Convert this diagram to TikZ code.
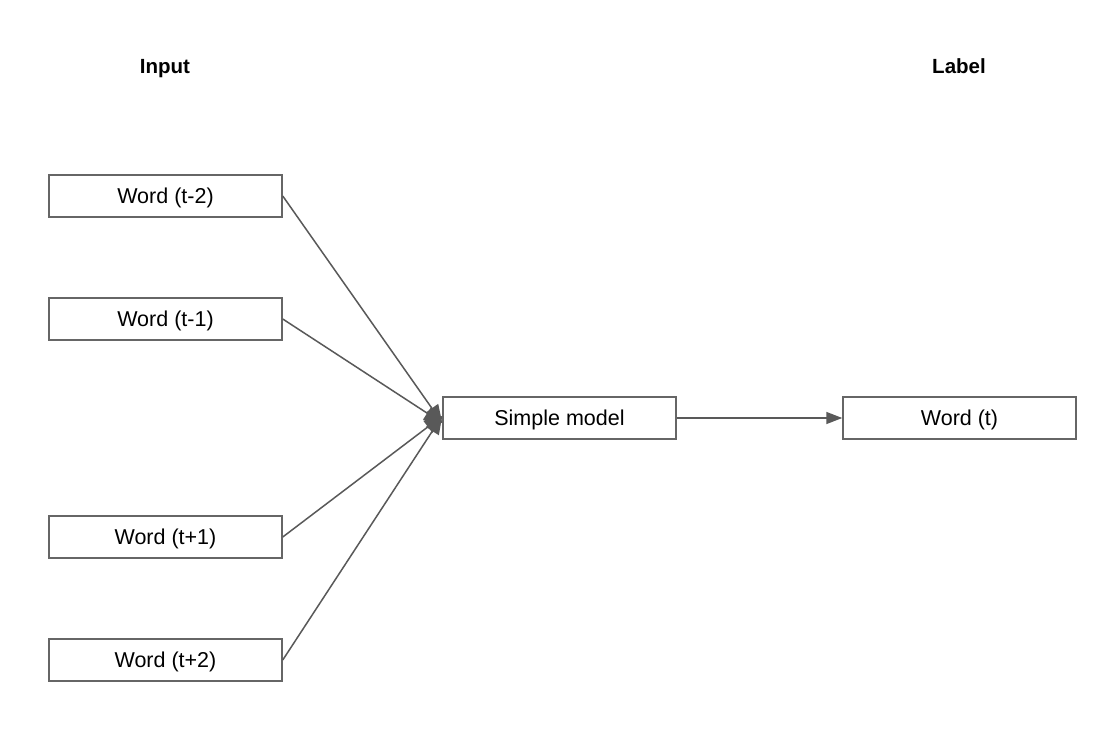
\documentclass[tikz,border=0pt]{standalone}
\usepackage{fontspec}
\setmainfont{Liberation Sans}
\usetikzlibrary{arrows.meta}
\definecolor{edgegray}{HTML}{595959}
\definecolor{boxgray}{HTML}{666666}
\begin{document}
\begin{tikzpicture}[x=1pt,y=-1pt,
  wordbox/.style={draw=boxgray,line width=1.5pt,minimum width=233pt,minimum height=42pt,inner sep=0pt,fill=white,text height=15.5pt,text depth=0pt,font=\fontsize{21.5}{25}\selectfont},
  head/.style={text height=14.8pt,text depth=0pt,font=\bfseries\fontsize{20.5}{24}\selectfont},
  conn/.style={draw=edgegray,line width=1.5pt,-{Triangle[length=16pt,width=12pt]}},
  bigconn/.style={conn,-{Triangle[length=18pt,width=15pt]}}]
\useasboundingbox[fill=white] (0,0) rectangle (1106,730);
\node[head] (inp) at (165,66) {Input};
\node[head] (lab) at (959,66) {Label};
\node[wordbox] (a) at (165.5,196) {Word (t-2)};
\node[wordbox] (b) at (165.5,319) {Word (t-1)};
\node[wordbox] (c) at (165.5,537) {Word (t+1)};
\node[wordbox] (d) at (165.5,660) {Word (t+2)};
\node[wordbox] (sm) at (559.5,418) {Simple model};
\node[wordbox] (wt) at (959.5,418) {Word (t)};
\draw[bigconn] (a.east) -- ([yshift=-5pt]sm.west);
\draw[bigconn] (b.east) -- ([yshift=-5pt]sm.west);
\draw[bigconn] (c.east) -- ([yshift=2pt]sm.west);
\draw[bigconn] (d.east) -- ([yshift=2pt]sm.west);
\draw[conn] (sm.east) -- (wt.west);
\end{tikzpicture}
\end{document}
